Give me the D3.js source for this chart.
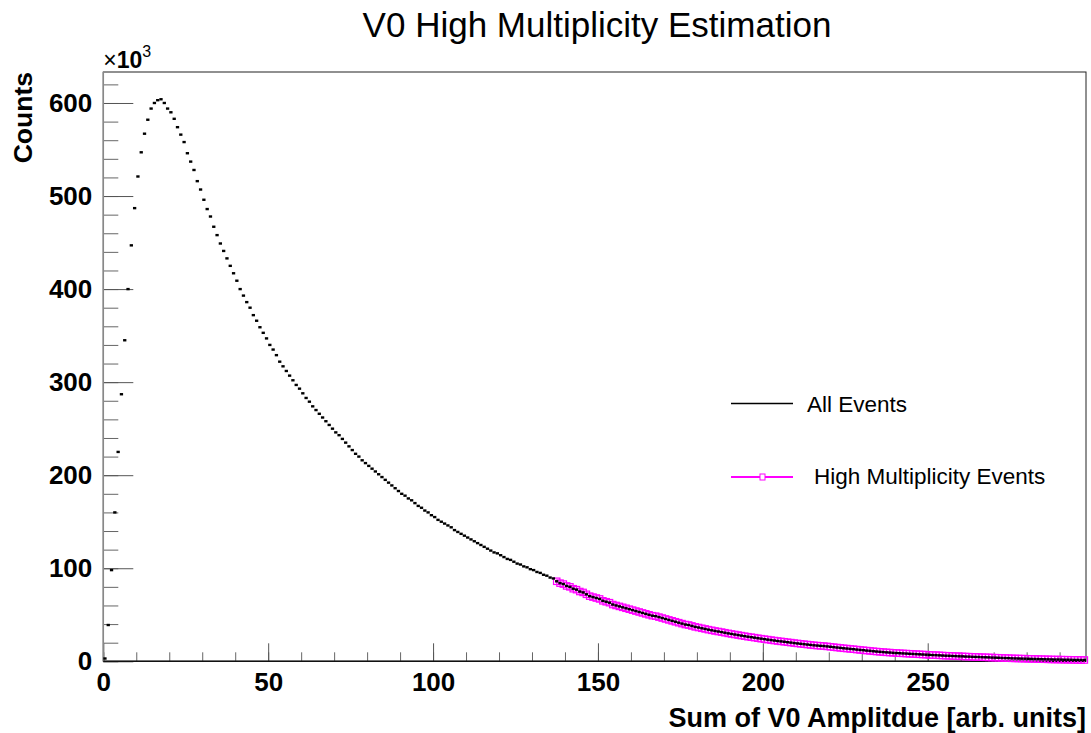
<!DOCTYPE html>
<meta charset="utf-8">
<body style="margin:0;background:#fff">
<script src="https://d3js.org/d3.v7.min.js"></script>
<script>
// bin contents (x10^3), one per unit-wide bin starting at 0
var counts = [
  3, 39, 98, 160, 225, 287, 345, 400, 447, 487,
  521, 547, 567, 582, 594, 600, 603, 604, 600, 594,
  590, 583, 574, 566, 558, 546, 537, 528, 516, 507,
  496, 486, 478, 467, 458, 449, 441, 433, 425, 417,
  409, 400, 393, 386, 380, 372, 366, 359, 353, 347,
  340, 335, 329, 322, 317, 312, 307, 302, 297, 293,
  288, 283, 279, 274, 270, 266, 262, 258, 254, 250,
  246, 243, 239, 235, 231, 227, 223, 220, 216, 213,
  210, 207, 204, 201, 198, 195, 192, 189, 186, 183,
  180, 178, 175, 173, 170, 167, 165, 162, 160, 157,
  155, 152, 150, 148, 146, 144, 141, 139, 137, 135,
  133, 131, 129, 127, 125, 123, 121, 119, 117, 116,
  114, 112, 110, 109, 107, 105, 104, 102, 101, 99,
  98, 96, 95, 93, 92, 90, 89, 86, 84, 83,
  81, 80, 78, 77, 75, 74, 72, 70, 69, 68,
  67, 65, 64, 63, 61, 60, 59, 58, 57, 56,
  55, 54, 53, 52, 51, 50, 49, 48.5, 47.5, 46.5,
  45.5, 44.5, 43.5, 42.5, 41.5, 40.5, 39.5, 39, 38, 37,
  36.3, 35.5, 34.8, 34, 33.3, 32.6, 32, 31.4, 30.7, 30,
  29.4, 28.8, 28.2, 27.6, 27, 26.4, 25.9, 25.4, 24.8, 24.3,
  23.8, 23.3, 22.8, 22.3, 21.8, 21.4, 21, 20.5, 20.1, 19.6,
  19.2, 18.8, 18.4, 18, 17.6, 17.2, 16.9, 16.6, 16.4, 16,
  15.6, 15.2, 14.8, 14.4, 14, 13.7, 13.3, 13, 12.6, 12.2,
  11.9, 11.5, 11.2, 10.8, 10.5, 10.2, 9.9, 9.6, 9.4, 9.1,
  8.9, 8.7, 8.5, 8.3, 8.1, 7.9, 7.7, 7.5, 7.3, 7.1,
  6.9, 6.7, 6.6, 6.4, 6.2, 6, 5.9, 5.7, 5.6, 5.4,
  5.3, 5.1, 5, 4.8, 4.7, 4.6, 4.4, 4.3, 4.2, 4,
  3.9, 3.8, 3.6, 3.5, 3.4, 3.2, 3.1, 3, 2.9, 2.8,
  2.7, 2.6, 2.5, 2.4, 2.3, 2.2, 2.1, 2, 1.9, 1.9,
  1.8, 1.7, 1.7, 1.6, 1.5, 1.5, 1.4, 1.4
];
var hmFirstBin = 137;   // high multiplicity selection starts here
var xTicks = [0, 50, 100, 150, 200, 250];
var xMinor = d3.range(0, 300, 10);
var yTicks = [0, 100, 200, 300, 400, 500, 600];
var yMinor = d3.range(0, 640, 20);
var legendLabels = ["All Events", "High Multiplicity Events"];

var W = 1091, H = 733;
var frame = {left: 103.3, right: 1086, top: 72, bottom: 661.3};
var font = "'Liberation Sans', Arial, Helvetica, sans-serif";

var svg = d3.select("body").append("svg")
    .attr("width", W).attr("height", H)
    .style("display", "block");

var x = d3.scaleLinear().domain([0, 298]).range([frame.left, frame.right]);
var y = d3.scaleLinear().domain([0, 633.3]).range([frame.bottom, frame.top]);

var bins = counts.map(function(c, i) { return {x0: i, x1: i + 1, v: c}; });
var hmBins = bins.filter(function(d) { return d.x0 >= hmFirstBin; });

// frame box
svg.append("rect")
    .attr("x", frame.left).attr("y", frame.top)
    .attr("width", frame.right - frame.left)
    .attr("height", frame.bottom - frame.top)
    .attr("fill", "none").attr("stroke", "#222").attr("stroke-width", 1);

// minor ticks
svg.append("g")
    .attr("transform", "translate(" + frame.left + ",0)")
    .call(d3.axisLeft(y).tickValues(yMinor).tickSize(-15).tickFormat(""))
    .call(function(g) { g.select(".domain").remove(); g.selectAll("line").attr("stroke", "#666"); });
svg.append("g")
    .attr("transform", "translate(0," + frame.bottom + ")")
    .call(d3.axisBottom(x).tickValues(xMinor).tickSize(-9).tickFormat(""))
    .call(function(g) { g.select(".domain").remove(); g.selectAll("line").attr("stroke", "#666"); });

// major ticks + labels
svg.append("g")
    .attr("transform", "translate(" + frame.left + ",0)")
    .call(d3.axisLeft(y).tickValues(yTicks).tickSize(-30).tickPadding(11).tickFormat(d3.format("d")))
    .call(function(g) {
        g.select(".domain").remove();
        g.selectAll("line").attr("stroke", "#555");
        g.selectAll("text").attr("font-family", font).attr("font-size", 26)
            .attr("font-weight", "bold").attr("fill", "#000");
    });
svg.append("g")
    .attr("transform", "translate(0," + frame.bottom + ")")
    .call(d3.axisBottom(x).tickValues(xTicks).tickSize(-18).tickPadding(6).tickFormat(d3.format("d")))
    .call(function(g) {
        g.select(".domain").remove();
        g.selectAll("line").attr("stroke", "#555");
        g.selectAll("text").attr("font-family", font).attr("font-size", 26)
            .attr("font-weight", "bold").attr("fill", "#000").attr("dy", "0.72em")
            .attr("y", 11);
    });

// axis lines on top of ticks
svg.append("line").attr("x1", frame.left).attr("x2", frame.left)
    .attr("y1", frame.top).attr("y2", frame.bottom).attr("stroke", "#888").attr("stroke-width", 1.5);
svg.append("line").attr("x1", frame.left).attr("x2", frame.right)
    .attr("y1", frame.bottom).attr("y2", frame.bottom).attr("stroke", "#111").attr("stroke-width", 1.5);

// high multiplicity: open squares + bin-width lines
var hm = svg.append("g").attr("fill", "none").attr("stroke", "#ff00ff");
hm.selectAll("line").data(hmBins).enter().append("line")
    .attr("x1", function(d) { return x(d.x0); })
    .attr("x2", function(d) { return x(d.x1); })
    .attr("y1", function(d) { return y(d.v); })
    .attr("y2", function(d) { return y(d.v); })
    .attr("stroke-width", 2);
hm.selectAll("rect").data(hmBins).enter().append("rect")
    .attr("x", function(d) { return x((d.x0 + d.x1) / 2) - 3.2; })
    .attr("y", function(d) { return y(d.v) - 3.2; })
    .attr("width", 6.4).attr("height", 6.4)
    .attr("stroke-width", 1.2);

// all events: bin-width dashes
svg.append("g").selectAll("rect").data(bins).enter().append("rect")
    .attr("x", function(d) { return x(d.x0); })
    .attr("y", function(d) { return y(d.v) - 1.2; })
    .attr("width", function(d) { return x(d.x1) - x(d.x0); })
    .attr("height", 2.4)
    .attr("fill", "#000");

// title and axis titles
svg.append("text").attr("x", 597).attr("y", 37)
    .attr("text-anchor", "middle").attr("font-family", font).attr("font-size", 35)
    .text("V0 High Multiplicity Estimation");
svg.append("text").attr("x", frame.right).attr("y", 727)
    .attr("text-anchor", "end").attr("font-family", font).attr("font-size", 27)
    .attr("font-weight", "bold")
    .text("Sum of V0 Amplitdue [arb. units]");
svg.append("text")
    .attr("transform", "translate(32," + frame.top + ") rotate(-90)")
    .attr("text-anchor", "end").attr("font-family", font).attr("font-size", 26.5)
    .attr("font-weight", "bold")
    .text("Counts");

// exponent label
var ex = svg.append("text").attr("x", frame.left).attr("y", 68)
    .attr("font-family", font).attr("font-size", 23).attr("font-weight", "bold");
ex.append("tspan").attr("font-weight", "normal").text("\u00d7");
ex.append("tspan").text("10");
ex.append("tspan").attr("font-size", 16).attr("dy", -11).attr("font-weight", "normal").text("3");

// legend
var leg = svg.append("g");
leg.append("line").attr("x1", 731).attr("x2", 793).attr("y1", 403.5).attr("y2", 403.5)
    .attr("stroke", "#000").attr("stroke-width", 1.5);
leg.append("text").attr("x", 807).attr("y", 412).attr("font-family", font).attr("font-size", 22.5)
    .text(legendLabels[0]);
leg.append("line").attr("x1", 731).attr("x2", 793).attr("y1", 477).attr("y2", 477)
    .attr("stroke", "#ff00ff").attr("stroke-width", 2);
leg.append("rect").attr("x", 760).attr("y", 474).attr("width", 5).attr("height", 6)
    .attr("fill", "#fff").attr("stroke", "#ff00ff").attr("stroke-width", 1);
leg.append("text").attr("x", 814).attr("y", 484).attr("font-family", font).attr("font-size", 22.5)
    .text(legendLabels[1]);
</script>
</body>
